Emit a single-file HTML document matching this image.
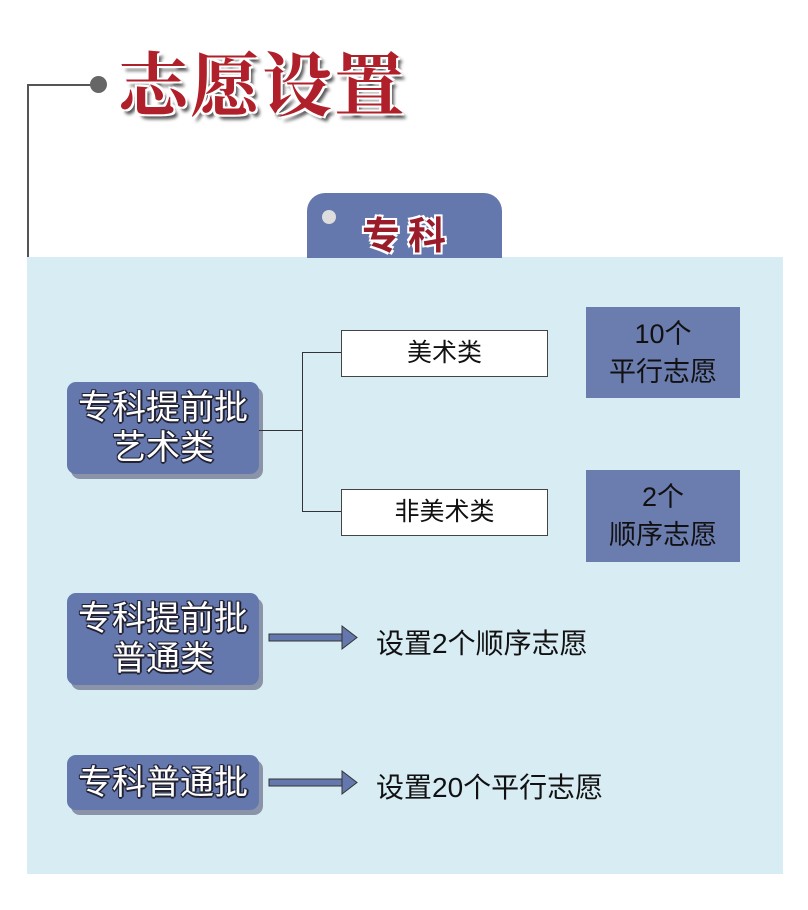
<!DOCTYPE html>
<html><head><meta charset="utf-8"><style>
body{margin:0;width:808px;height:910px;background:#fff;position:relative;overflow:hidden;font-family:"Liberation Sans","Noto Sans CJK SC",sans-serif}
.a{position:absolute}
.panel{left:27px;top:257px;width:756px;height:617px;background:#d8ecf4}
.lb{background:#6478ad;border-radius:9px;box-shadow:4px 5px 0 #8a93a8;color:#fff;font-size:34px;text-align:center;line-height:40px;
text-shadow:-1px -1px 0 #223,1px -1px 0 #223,-1px 1px 0 #223,1px 1px 0 #223,0 2px 0 #223,2px 0 0 #223;display:flex;align-items:center;justify-content:center;white-space:nowrap}
.mb{background:#fff;border:1px solid #444;font-size:25px;text-align:center;line-height:44px;color:#111}
.rb{background:#6b7cae;color:#111;font-size:27px;text-align:center;line-height:38px;display:flex;align-items:center;justify-content:center}
.t{font-size:28px;color:#111}
</style></head><body>
<div class="a" style="left:27px;top:84px;width:2px;height:790px;background:#555"></div>
<div class="a" style="left:27px;top:84px;width:70px;height:2px;background:#555"></div>
<div class="a" style="left:90px;top:76px;width:17px;height:17px;border-radius:50%;background:#666"></div>
<div class="a" style="left:118px;top:30px;font-size:70px;font-weight:bold;color:#b0202a;font-family:'Noto Serif CJK SC',serif;text-shadow:-2px -2px 0 #fff,2px -2px 0 #fff,-2px 2px 0 #fff,2px 2px 0 #fff,4px 5px 3px #555;letter-spacing:2px">志愿设置</div>
<div class="a panel"></div>
<div class="a" style="left:307px;top:193px;width:195px;height:65px;background:#6478ad;border-radius:18px 18px 0 0"></div>
<div class="a" style="left:322px;top:210px;width:14px;height:14px;border-radius:50%;background:#ddd"></div>
<div class="a" style="left:362px;top:205px;font-size:38px;font-weight:bold;color:#9a1c2a;letter-spacing:8px;text-shadow:-2px -2px 0 #fff,2px -2px 0 #fff,-2px 2px 0 #fff,2px 2px 0 #fff">专科</div>

<div class="a lb" style="left:67px;top:382px;width:192px;height:92px">专科提前批<br>艺术类</div>
<div class="a lb" style="left:67px;top:593px;width:192px;height:92px">专科提前批<br>普通类</div>
<div class="a lb" style="left:67px;top:755px;width:192px;height:55px">专科普通批</div>

<div class="a" style="left:259px;top:430px;width:43px;height:1px;background:#333"></div>
<div class="a" style="left:302px;top:352px;width:1px;height:160px;background:#333"></div>
<div class="a" style="left:302px;top:352px;width:39px;height:1px;background:#333"></div>
<div class="a" style="left:302px;top:511px;width:39px;height:1px;background:#333"></div>
<div class="a mb" style="left:341px;top:330px;width:205px;height:45px">美术类</div>
<div class="a mb" style="left:341px;top:489px;width:205px;height:45px">非美术类</div>
<div class="a rb" style="left:586px;top:307px;width:154px;height:91px">10个<br>平行志愿</div>
<div class="a rb" style="left:586px;top:470px;width:154px;height:92px">2个<br>顺序志愿</div>

<svg class="a" style="left:260px;top:620px" width="100" height="180">
<rect x="9" y="14" width="76" height="7" fill="#6478ad" stroke="#333"/>
<polygon points="82,6 97,17.5 82,29" fill="#6478ad" stroke="#333"/>
<rect x="9" y="159" width="76" height="7" fill="#6478ad" stroke="#333"/>
<polygon points="82,151 97,162.5 82,174" fill="#6478ad" stroke="#333"/>
</svg>
<div class="a t" style="left:376px;top:622px">设置2个顺序志愿</div>
<div class="a t" style="left:376px;top:766px">设置20个平行志愿</div>
</body></html>
